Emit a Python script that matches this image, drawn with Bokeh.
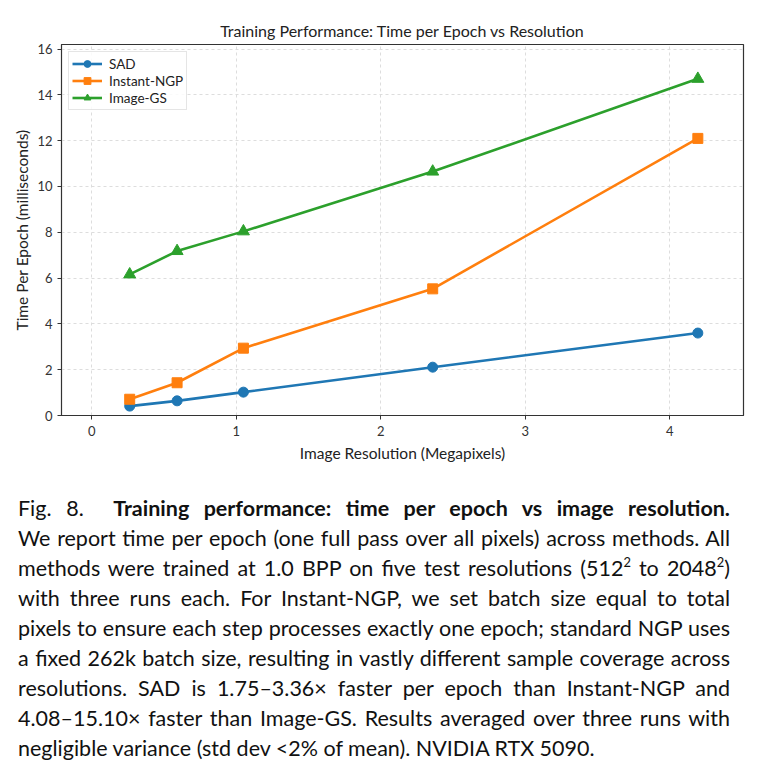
from bokeh.plotting import figure
from bokeh.models import Legend, LegendItem, Div, Range1d, FixedTicker
from bokeh.layouts import column
from bokeh.embed import file_html
from bokeh.resources import INLINE

# Data (megapixels for 512^2, 768^2, 1024^2, 1536^2, 2048^2)
res_mp = [0.262, 0.590, 1.049, 2.359, 4.194]
sad = [0.41, 0.64, 1.02, 2.11, 3.60]
ngp = [0.71, 1.43, 2.94, 5.53, 12.10]
image_gs = [6.16, 7.18, 8.04, 10.65, 14.70]
x_ticks = [0, 1, 2, 3, 4]
y_ticks = [0, 2, 4, 6, 8, 10, 12, 14, 16]

FONT = "Lato"
c_sad, c_ngp, c_gs = "#1f77b4", "#ff7f0e", "#2ca02c"

p = figure(width=763, height=470, output_backend="svg", toolbar_location=None,
           x_range=Range1d(-0.21, 4.51), y_range=Range1d(0, 16.2),
           min_border_left=61, min_border_right=20, min_border_top=44, min_border_bottom=55,
           title="Training Performance: Time per Epoch vs Resolution")
p.title.align = "center"
p.title.text_font = FONT
p.title.text_font_size = "16px"
p.title.text_font_style = "normal"
p.title.text_color = "#222222"
p.title.standoff = 9

p.outline_line_color = "#333333"
p.outline_line_width = 1.2
for ax in (p.xaxis[0], p.yaxis[0]):
    ax.axis_line_color = "#333333"
    ax.major_tick_out = 4
    ax.major_tick_in = 0
    ax.minor_tick_line_color = None
    ax.major_tick_line_color = "#333333"
    ax.major_label_text_font = FONT
    ax.major_label_text_font_size = "13px"
    ax.major_label_text_color = "#333333"
    ax.axis_label_text_font = FONT
    ax.axis_label_text_font_size = "15.5px"
    ax.axis_label_text_font_style = "normal"
    ax.axis_label_text_color = "#222222"
p.xaxis.ticker = FixedTicker(ticks=x_ticks)
p.yaxis.ticker = FixedTicker(ticks=y_ticks)
p.xaxis.axis_label = "Image Resolution (Megapixels)"
p.yaxis.axis_label = "Time Per Epoch (milliseconds)"
p.xaxis.major_label_standoff = 6
p.xaxis.axis_label_standoff = 5
p.yaxis.major_label_standoff = 5
p.yaxis.axis_label_standoff = 3

p.xgrid.grid_line_color = "#dddddd"
p.ygrid.grid_line_color = "#dddddd"
p.xgrid.grid_line_dash = "3 3"
p.ygrid.grid_line_dash = "3 3"

l1 = p.line(res_mp, sad, color=c_sad, line_width=2.6)
m1 = p.scatter(res_mp, sad, marker="circle", size=10, color=c_sad)
l2 = p.line(res_mp, ngp, color=c_ngp, line_width=2.6)
m2 = p.scatter(res_mp, ngp, marker="square", size=10, color=c_ngp)
l3 = p.line(res_mp, image_gs, color=c_gs, line_width=2.6)
m3 = p.scatter(res_mp, image_gs, marker="triangle", size=12, color=c_gs)

legend = Legend(items=[LegendItem(label="SAD", renderers=[l1, m1]),
                       LegendItem(label="Instant-NGP", renderers=[l2, m2]),
                       LegendItem(label="Image-GS", renderers=[l3, m3])],
                location="top_left")
legend.margin = 7
legend.padding = 3
legend.spacing = 0
legend.label_text_font = FONT
legend.label_text_font_size = "13.5px"
legend.label_text_color = "#222222"
legend.glyph_width = 30
legend.glyph_height = 17
legend.label_height = 17
legend.label_standoff = 7
legend.border_line_color = "#cccccc"
legend.background_fill_alpha = 0.85
p.add_layout(legend)

lines = [
    ("j", 'Fig. 8.&nbsp; <b>Training performance: time per epoch vs image resolution.</b>'),
    ("j", "We report time per epoch (one full pass over all pixels) across methods. All"),
    ("j", 'methods were trained at 1.0 BPP on five test resolutions (512<sup>2</sup> to 2048<sup>2</sup>)'),
    ("j", "with three runs each. For Instant-NGP, we set batch size equal to total"),
    ("j", "pixels to ensure each step processes exactly one epoch; standard NGP uses"),
    ("j", "a fixed 262k batch size, resulting in vastly different sample coverage across"),
    ("j", "resolutions. SAD is 1.75\u20133.36\u00d7 faster per epoch than Instant-NGP and"),
    ("j", "4.08\u201315.10\u00d7 faster than Image-GS. Results averaged over three runs with"),
    ("l", "negligible variance (std dev &lt;2% of mean). NVIDIA RTX 5090."),
]
html_lines = []
for kind, t in lines:
    if kind == "j":
        st = "text-align:justify;text-align-last:justify;"
    else:
        st = "text-align:left;"
    html_lines.append(f'<div style="{st}white-space:nowrap;height:30px;line-height:30px;">{t}</div>')
html = ('<style>sup{font-size:0.6em;line-height:0;vertical-align:0.7em;}</style>'
        f'<div style="font-family:Lato;font-size:21.5px;color:#111;width:730px;padding-left:18px;padding-top:23px;">'
        + "".join(html_lines) + "</div>")
div = Div(text=html, width=763, height=305, margin=(0, 0, 0, 0))

layout = column(p, div, spacing=0)
open("out.html", "w").write(file_html(layout, INLINE))
